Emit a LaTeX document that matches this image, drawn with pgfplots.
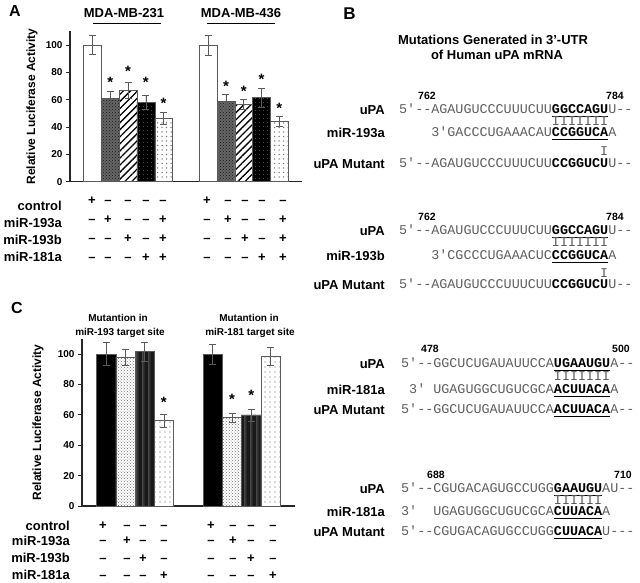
\documentclass[border=0pt]{standalone}
\usepackage{pgfplots}
\pgfplotsset{compat=1.18}
\usepackage{fontspec}
\setmainfont{Liberation Sans}
\setmonofont{Liberation Mono}
\usetikzlibrary{patterns,patterns.meta}
\definecolor{seqgray}{HTML}{5E5E5E}
\definecolor{edgegray}{HTML}{5A5A5A}
\newcommand{\fs}[1]{\fontsize{#1}{#1}\selectfont}
\newcommand{\p}{+}
\newcommand{\m}{\textendash}
\newcommand{\sg}[3]{\node[anchor=base,inner sep=0pt,font=\bfseries\fs{13}] at (#1,{578-#2}) {#3};}
\newcommand{\lab}[3]{\node[anchor=base east,inner sep=0pt,font=\bfseries\fs{13}] at (#1,{577.3-#2}) {#3};}
\newcommand{\seq}[4]{\node[anchor=base west,inner sep=0pt,font=\ttfamily\fs{13.4}] at ({#1+#2*8.04},{578.2-#3}) {#4};}
\newcommand{\uline}[4]{\draw[line width=1.2pt] ({#1+#2*8.04},{575.8-#4}) -- ({#1+#3*8.04},{575.8-#4});}
\newcommand{\num}[3]{\node[anchor=base,inner sep=0pt,font=\bfseries\fs{10.5}] at (#1,{578.2-#2}) {#3};}
\newcommand{\Gp}[1]{{\color{seqgray}#1}}
\newcommand{\Bd}[1]{{\bfseries #1}}
\pgfplotsset{
  errb/.style={
    /pgfplots/error bars/y dir=both,
    /pgfplots/error bars/y explicit,
    /pgfplots/error bars/error bar style={line width=0.6pt, draw=edgegray},
    /pgfplots/error bars/error mark options={rotate=90, mark size=3.5pt, line width=0.6pt, draw=edgegray}},
  bb/.style={ybar, bar width=1, bar shift=0pt, draw=edgegray, line width=0.5pt},
  panel/.style={
    scale only axis, ymin=0, ymax=110,
    axis x line*=bottom, axis y line*=left,
    axis line style={line width=1.1pt, draw=black!85},
    xtick=\empty, ytick={0,20,40,60,80,100},
    tick align=outside, ytick pos=left, major tick length=4pt,
    tick style={line width=0.9pt, draw=black!85},
    /pgf/number format/assume math mode=true,
    yticklabel style={font=\bfseries\fs{10}},
    ylabel={Relative Luciferase Activity},
    clip=false},
  stars/.style={draw=none, mark=none, nodes near coords={\bfseries\fs{15}*},
    every node near coord/.append style={anchor=center, inner sep=0pt}}
}
\begin{document}
\begin{tikzpicture}[x=1pt,y=1pt]
\path (0,0) rectangle (640,582);

% ---------------- Panel A ----------------
\node[anchor=base,inner sep=0pt,font=\bfseries\fs{16}] at (15,565.6) {A};
\node[anchor=base,inner sep=0pt,font=\bfseries\fs{13}] at (124,564) {MDA-MB-231};
\node[anchor=base,inner sep=0pt,font=\bfseries\fs{13}] at (241,564) {MDA-MB-436};
\draw[line width=1pt] (93,558.7) -- (161,558.7);
\draw[line width=1pt] (207,558.7) -- (275,558.7);

\begin{axis}[panel,
  at={(70pt,400.3pt)}, anchor=south west,
  width=232pt, height=150.4pt,
  xmin=-1.26, xmax=11.77,
  ylabel style={font=\bfseries\fs{12}, at={(axis description cs:-0.164,0.5)}, anchor=center}]
\addplot[bb, fill=white, errb] coordinates {(0,100) +- (0,7) (6.5,100) +- (0,7.4)};
\addplot[bb, fill=black!60, postaction={pattern=crosshatch dots, pattern color=black!90}, errb]
  coordinates {(1,61) +- (0,4.8) (7.5,58.5) +- (0,5.5)};
\addplot[bb, fill=white, postaction={pattern={Lines[angle=45,distance=5pt,line width=1.3pt]}, pattern color=black}, errb]
  coordinates {(2,67) +- (0,6) (8.5,56.6) +- (0,4)};
\addplot[bb, fill=black, postaction={pattern={Dots[distance=4pt,radius=0.45pt]}, pattern color=black!45}, errb]
  coordinates {(3,58) +- (0,5.3) (9.5,61.4) +- (0,7)};
\addplot[bb, fill=white, postaction={pattern={Dots[distance=4.5pt,radius=0.75pt]}, pattern color=black!55}, errb]
  coordinates {(4,46.5) +- (0,4.4) (10.5,44) +- (0,3.7)};
\addplot[stars] coordinates {(1,72.4) (2,80.4) (3,72.4) (4,57) (7.5,70) (8.5,66.3) (9.5,74.8) (10.5,53.4)};
\end{axis}

\lab{62}{206}{control}
\lab{62}{223}{miR-193a}
\lab{62}{240}{miR-193b}
\lab{62}{257}{miR-181a}
\foreach \x/\s in {92/\p,108/\m,128/\m,146/\m,163/\m,207/\p,228/\m,245/\m,262/\m,283/\m} {\sg{\x}{201}{\s}}
\foreach \x/\s in {92/\m,108/\p,128/\m,146/\m,163/\p,207/\m,228/\p,245/\m,262/\m,283/\p} {\sg{\x}{220}{\s}}
\foreach \x/\s in {92/\m,108/\m,128/\p,146/\m,163/\p,207/\m,228/\m,245/\p,262/\m,283/\p} {\sg{\x}{239}{\s}}
\foreach \x/\s in {92/\m,108/\m,128/\m,146/\p,163/\p,207/\m,228/\m,245/\m,262/\p,283/\p} {\sg{\x}{257.5}{\s}}

% ---------------- Panel C ----------------
\node[anchor=base,inner sep=0pt,font=\bfseries\fs{16}] at (17,268.3) {C};
\node[anchor=base,inner sep=0pt,font=\bfseries\fs{10}] at (118,260.1) {Mutantion in};
\node[anchor=base,inner sep=0pt,font=\bfseries\fs{10}] at (120,246.7) {miR-193 target site};
\node[anchor=base,inner sep=0pt,font=\bfseries\fs{10}] at (249,260.1) {Mutantion in};
\node[anchor=base,inner sep=0pt,font=\bfseries\fs{10}] at (250,246.7) {miR-181 target site};

\begin{axis}[panel,
  at={(82pt,76pt)}, anchor=south west,
  width=213pt, height=167.2pt,
  xmin=-1.26, xmax=9.83,
  ylabel style={font=\bfseries\fs{12}, at={(axis description cs:-0.2066,0.5)}, anchor=center}]
\addplot[bb, fill=black, errb] coordinates {(0,100) +- (0,7.4) (5.55,100) +- (0,6.6)};
\addplot[bb, fill=white, postaction={pattern=crosshatch dots, pattern color=black!55}, errb]
  coordinates {(1,97.8) +- (0,5) (6.55,58.3) +- (0,3)};
\addplot[bb, fill=black!72, postaction={pattern={Lines[angle=90,distance=1.2pt,line width=0.35pt]}, pattern color=black!90}, errb]
  coordinates {(2,101.5) +- (0,6) (7.55,59.9) +- (0,4)};
\addplot[bb, fill=white, postaction={pattern={Dots[distance=5pt,radius=0.6pt]}, pattern color=black!60}, errb]
  coordinates {(3,56.2) +- (0,4.3) (8.55,98.7) +- (0,6)};
\addplot[stars] coordinates {(3,68.5) (6.55,70) (7.55,72.5)};
\end{axis}

\lab{70}{526}{control}
\lab{70}{541}{miR-193a}
\lab{70}{558}{miR-193b}
\lab{70}{575}{miR-181a}
\foreach \x/\s in {103/\p,127/\m,143/\m,164/\m,211/\p,233/\m,251/\m,273/\m} {\sg{\x}{525}{\s}}
\foreach \x/\s in {103/\m,127/\p,143/\m,164/\m,211/\m,233/\p,251/\m,273/\m} {\sg{\x}{540}{\s}}
\foreach \x/\s in {103/\m,127/\m,143/\p,164/\m,211/\m,233/\m,251/\p,273/\m} {\sg{\x}{558}{\s}}
\foreach \x/\s in {103/\m,127/\m,143/\m,164/\p,211/\m,233/\m,251/\m,273/\p} {\sg{\x}{575}{\s}}

% ---------------- Panel B ----------------
\node[anchor=base,inner sep=0pt,font=\bfseries\fs{17}] at (349.5,562.4) {B};
\node[anchor=base,inner sep=0pt,font=\bfseries\fs{13}] at (493,537.3) {Mutations Generated in 3'-UTR};
\node[anchor=base,inner sep=0pt,font=\bfseries\fs{13}] at (497,522.3) {of Human uPA mRNA};

% Block 1
\num{427}{96}{762} \num{615}{96}{784}
\lab{385}{110}{uPA}
\seq{399}{0}{110}{\Gp{5'--AGAUGUCCCUUUCUU}\Bd{GGCCAGU}\Gp{U--}}
\uline{399}{19}{26}{110}
\seq{399}{19}{121.5}{\Gp{IIIIIII}}
\lab{385}{133}{miR-193a}
\seq{399}{4}{133}{\Gp{3'GACCCUGAAACAU}\Bd{CCGGUCA}\Gp{A}}
\uline{399}{19}{26}{133}
\seq{399}{25}{152}{\Gp{I}}
\lab{385}{164}{uPA Mutant}
\seq{399}{0}{164}{\Gp{5'--AGAUGUCCCUUUCUU}\Bd{CCGGUCU}\Gp{U--}}

% Block 2
\num{427}{217}{762} \num{615}{217}{784}
\lab{385}{231}{uPA}
\seq{399}{0}{231}{\Gp{5'--AGAUGUCCCUUUCUU}\Bd{GGCCAGU}\Gp{U--}}
\uline{399}{19}{26}{231}
\seq{399}{19}{243}{\Gp{IIIIIII}}
\lab{385}{256}{miR-193b}
\seq{399}{4}{256}{\Gp{3'CGCCCUGAAACUC}\Bd{CCGGUCA}\Gp{A}}
\uline{399}{19}{26}{256}
\seq{399}{25}{274}{\Gp{I}}
\lab{385}{285}{uPA Mutant}
\seq{399}{0}{285}{\Gp{5'--AGAUGUCCCUUUCUU}\Bd{CCGGUCU}\Gp{U--}}

% Block 3
\num{430}{349}{478} \num{621}{349}{500}
\lab{385}{364}{uPA}
\seq{401}{0}{364}{\Gp{5'--GGCUCUGAUAUUCCA}\Bd{UGAAUGU}\Gp{A--}}
\uline{401}{19}{26}{364}
\seq{401}{19}{377}{\Gp{IIIIIII}}
\lab{385}{390}{miR-181a}
\seq{401}{1}{390}{\Gp{3'}}
\seq{401}{4}{390}{\Gp{UGAGUGGCUGUCGCA}\Bd{ACUUACA}\Gp{A}}
\uline{401}{19}{26}{390}
\lab{385}{410}{uPA Mutant}
\seq{401}{0}{410}{\Gp{5'--GGCUCUGAUAUUCCA}\Bd{ACUUACA}\Gp{A--}}
\uline{401}{19}{26}{410}

% Block 4
\num{436}{475}{688} \num{623}{475}{710}
\lab{385}{489}{uPA}
\seq{401}{0}{489}{\Gp{5'--CGUGACAGUGCCUGG}\Bd{GAAUGU}\Gp{AU--}}
\uline{401}{19}{25}{489}
\seq{401}{19}{501}{\Gp{IIIIII}}
\lab{385}{512}{miR-181a}
\seq{401}{0}{512}{\Gp{3'}}
\seq{401}{4}{512}{\Gp{UGAGUGGCUGUCGCA}\Bd{CUUACA}\Gp{A}}
\uline{401}{19}{25}{512}
\lab{385}{532}{uPA Mutant}
\seq{401}{0}{532}{\Gp{5'--CGUGACAGUGCCUGG}\Bd{CUUACA}\Gp{U---}}
\uline{401}{19}{25}{532}

\end{tikzpicture}
\end{document}
